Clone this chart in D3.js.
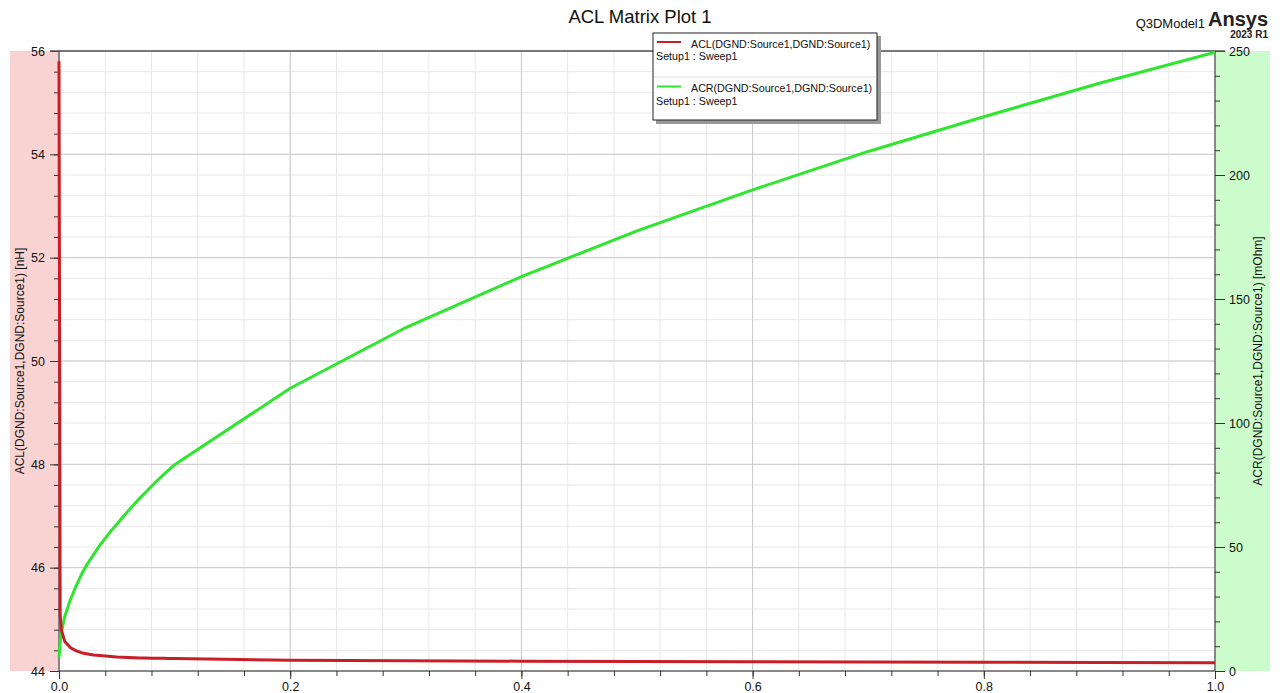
<!DOCTYPE html>
<html><head><meta charset="utf-8">
<script src="https://cdn.jsdelivr.net/npm/d3@7"></script>
<style>body{margin:0;background:#fff;font-family:"Liberation Sans",Arial,sans-serif}</style>
</head><body><svg id="c" width="1280" height="693"></svg>
<script>
const freq = [0,0.001,0.002,0.005,0.01,0.015,0.02,0.025,0.03,0.035,0.04,0.045,0.05,0.055,0.06,0.065,0.07,0.075,0.08,0.085,0.09,0.095,0.1,0.2,0.3,0.4,0.5,0.6,0.7,0.8,0.9,1.0];
const acl = [55.8,45.1,44.8,44.57,44.45,44.39,44.35,44.33,44.31,44.3,44.29,44.28,44.27,44.265,44.26,44.257,44.254,44.251,44.249,44.247,44.245,44.243,44.24,44.21,44.2,44.19,44.185,44.18,44.175,44.17,44.165,44.16];
const acr = [5.5,11,15.5,22,29,34.5,39.5,43.5,47,50.5,53.5,56.5,59.2,62,64.6,67.2,69.7,72.1,74.5,76.8,79,81.1,83.2,114,138.5,159,177.5,194,209.5,223.5,237,249.5];
const xTicks = [0,0.2,0.4,0.6,0.8,1.0];
const yLTicks = [44,46,48,50,52,54,56];
const yRTicks = [0,50,100,150,200,250];
const title = "ACL Matrix Plot 1";
const seriesNames = ["ACL(DGND:Source1,DGND:Source1)","ACR(DGND:Source1,DGND:Source1)"];
const setupName = "Setup1 : Sweep1";

const svg = d3.select("#c");
const L=59,R=1215,T=51,B=671;
const x = d3.scaleLinear().domain([0,1]).range([L,R]);
const yL = d3.scaleLinear().domain([44,56]).range([B,T]);
const yR = d3.scaleLinear().domain([0,250]).range([B,T]);
const red="#c81e28", green="#2ee62e";

// bands
svg.append("rect").attr("x",10).attr("y",T).attr("width",L-10).attr("height",B-T).attr("fill","#f9d2d2");
svg.append("rect").attr("x",R).attr("y",T).attr("width",1270-R).attr("height",B-T).attr("fill","#ccfccc");
svg.append("rect").attr("x",L).attr("y",T).attr("width",R-L).attr("height",B-T).attr("fill","#fff");

// grid
const g = svg.append("g");
const xMinor = d3.range(0,1.0001,0.04);
const yMinor = d3.range(44,56.0001,0.4);
g.selectAll(".xm").data(xMinor).enter().append("line")
 .attr("x1",d=>x(d)).attr("x2",d=>x(d)).attr("y1",T).attr("y2",B).attr("stroke","#e8e8e8");
g.selectAll(".ym").data(yMinor).enter().append("line")
 .attr("y1",d=>yL(d)).attr("y2",d=>yL(d)).attr("x1",L).attr("x2",R).attr("stroke","#e8e8e8");
g.selectAll(".xM").data(xTicks).enter().append("line")
 .attr("x1",d=>x(d)).attr("x2",d=>x(d)).attr("y1",T).attr("y2",B).attr("stroke","#cacaca");
g.selectAll(".yM").data(yLTicks).enter().append("line")
 .attr("y1",d=>yL(d)).attr("y2",d=>yL(d)).attr("x1",L).attr("x2",R).attr("stroke","#cacaca");

// axes
function styleAxis(sel){sel.select(".domain").remove();sel.selectAll("line").attr("stroke","#333");sel.selectAll("text").attr("fill","#111").style("font-family","'Liberation Sans',Arial,sans-serif").style("font-size","12.5px");}
const bx = svg.append("g").attr("transform",`translate(0,${B})`);
bx.call(d3.axisBottom(x).tickValues(xMinor).tickSize(5).tickFormat("")); styleAxis(bx);
const bx2 = svg.append("g").attr("transform",`translate(0,${B})`);
bx2.call(d3.axisBottom(x).tickValues(xTicks).tickSize(8).tickPadding(3).tickFormat(d3.format(".1f"))); styleAxis(bx2);
const ly = svg.append("g").attr("transform",`translate(${L},0)`);
ly.call(d3.axisLeft(yL).tickValues(yMinor).tickSize(5).tickFormat("")); styleAxis(ly);
const ly2 = svg.append("g").attr("transform",`translate(${L},0)`);
ly2.call(d3.axisLeft(yL).tickValues(yLTicks).tickSize(9).tickPadding(5).tickFormat(d3.format("d"))); styleAxis(ly2);
const ry = svg.append("g").attr("transform",`translate(${R},0)`);
ry.call(d3.axisRight(yR).tickValues(d3.range(0,250.001,10)).tickSize(5).tickFormat("")); styleAxis(ry);
const ry2 = svg.append("g").attr("transform",`translate(${R},0)`);
ry2.call(d3.axisRight(yR).tickValues(yRTicks).tickSize(10).tickPadding(4).tickFormat(d3.format("d"))); styleAxis(ry2);

// frame
svg.append("line").attr("x1",L-9).attr("x2",R+10).attr("y1",T).attr("y2",T).attr("stroke","#555").attr("stroke-width",1.5);
svg.append("line").attr("x1",L).attr("x2",R).attr("y1",B).attr("y2",B).attr("stroke","#333");
svg.append("line").attr("x1",L).attr("x2",L).attr("y1",T).attr("y2",B).attr("stroke","#333");
svg.append("line").attr("x1",R).attr("x2",R).attr("y1",T).attr("y2",B).attr("stroke","#333");

// lines
svg.append("clipPath").attr("id","cp").append("rect").attr("x",L-2).attr("y",T).attr("width",R-L+4).attr("height",B-T);
const pts = freq.map((f,i)=>({f,l:acl[i],r:acr[i]}));
svg.append("path").datum(pts).attr("clip-path","url(#cp)").attr("fill","none").attr("stroke",green).attr("stroke-width",3).attr("stroke-linejoin","round")
 .attr("d",d3.line().x(d=>x(d.f)).y(d=>yR(d.r)));
svg.append("path").datum(pts).attr("clip-path","url(#cp)").attr("fill","none").attr("stroke",red).attr("stroke-width",3).attr("stroke-linejoin","round")
 .attr("d",d3.line().x(d=>x(d.f)).y(d=>yL(d.l)));

// texts
const ff="'Liberation Sans',Arial,sans-serif";
svg.append("text").attr("x",640).attr("y",23).attr("text-anchor","middle").style("font-family",ff).style("font-size","18.5px").attr("fill","#111").text(title);
svg.append("text").attr("x",1205).attr("y",28).attr("text-anchor","end").style("font-family",ff).style("font-size","13px").attr("fill","#111").text("Q3DModel1");
svg.append("text").attr("x",1268).attr("y",26).attr("text-anchor","end").style("font-family",ff).style("font-size","20px").style("font-weight","bold").attr("fill","#222").text("Ansys");
svg.append("text").attr("x",1268).attr("y",38).attr("text-anchor","end").style("font-family",ff).style("font-size","10px").style("font-weight","bold").attr("fill","#222").text("2023 R1");
svg.append("text").attr("transform","translate(24,361) rotate(-90)").attr("text-anchor","middle").style("font-family",ff).style("font-size","12px").attr("fill","#111").text(seriesNames[0]+" [nH]");
svg.append("text").attr("transform","translate(1262,361) rotate(-90)").attr("text-anchor","middle").style("font-family",ff).style("font-size","12px").attr("fill","#111").text(seriesNames[1]+" [mOhm]");

// legend
const lg = svg.append("g");
lg.append("rect").attr("x",656).attr("y",36).attr("width",225).attr("height",88).attr("fill","#999");
lg.append("rect").attr("x",653).attr("y",33).attr("width",224).attr("height",87).attr("fill","#fff").attr("stroke","#222");
lg.append("line").attr("x1",654).attr("x2",876).attr("y1",77).attr("y2",77).attr("stroke","#ddd");
const cols=[red,green];
seriesNames.forEach((s,i)=>{
  const oy = 33+i*44.5;
  lg.append("line").attr("x1",657).attr("x2",681).attr("y1",oy+9).attr("y2",oy+9).attr("stroke",cols[i]).attr("stroke-width",2);
  lg.append("text").attr("x",691).attr("y",oy+14.5).style("font-family",ff).style("font-size","10.7px").attr("fill","#111").text(s);
  lg.append("text").attr("x",656).attr("y",oy+27).style("font-family",ff).style("font-size","10.7px").attr("fill","#111").text(setupName);
});
</script></body></html>
